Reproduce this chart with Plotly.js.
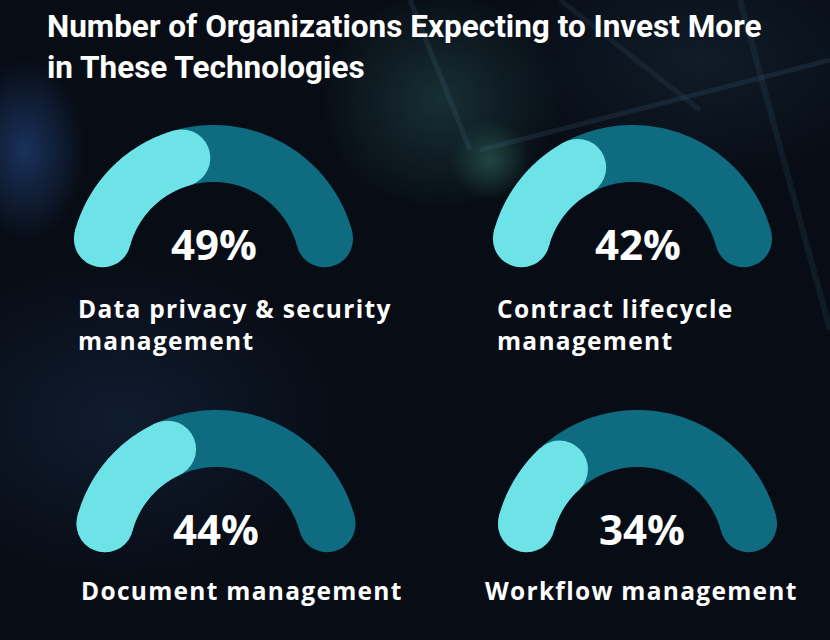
<!DOCTYPE html>
<html>
<head>
<meta charset="utf-8">
<script src="https://cdn.plot.ly/plotly-3.0.1.min.js"></script>
<style>
html,body{margin:0;padding:0;}
body{width:830px;height:640px;overflow:hidden;
background:
 radial-gradient(ellipse 60px 90px at 25px 150px, rgba(40,80,150,0.55), rgba(0,0,0,0) 100%),
 radial-gradient(ellipse 120px 110px at 440px 100px, rgba(40,90,90,0.45), rgba(0,0,0,0) 100%),
 radial-gradient(ellipse 40px 40px at 490px 160px, rgba(60,130,110,0.45), rgba(0,0,0,0) 100%),
 radial-gradient(ellipse 220px 160px at 120px 420px, rgba(25,45,80,0.45), rgba(0,0,0,0) 100%),
 radial-gradient(ellipse 200px 120px at 700px 60px, rgba(30,55,75,0.35), rgba(0,0,0,0) 100%),
 #080d15;}
#chart{width:830px;height:640px;}
</style>
</head>
<body>
<div id="chart"></div>
<script>
// ---- data ----
const categories = ["Data privacy & security<br>management", "Contract lifecycle<br>management", "Document management", "Workflow management"];
const values = [49, 42, 44, 34];
const valueLabels = ["49%", "42%", "44%", "34%"];
const titleText = "Number of Organizations Expecting to Invest More<br>in These Technologies";

// ---- layout config ----
const W = 830, H = 640;
const R_PX = 115;          // centerline radius in px
const STROKE = 57;         // band width in px
const THETA0 = 15;         // track end angle above horizontal (deg)
const CAP = (STROKE / 2) / R_PX * 180 / Math.PI; // cap angle (deg)
const centers = [[213.5, 268.5], [632.5, 268.5], [216, 553.5], [637.5, 553.5]];
const labelPos = [[76, 324], [495, 324], [79, 590], [483, 590]];
const pctShift = [0, 5, 0, 4];
const DARK = "#0f6b80", LIGHT = "#6de3e8";

function arc(a0, a1, n) {
  const xs = [], ys = [];
  for (let i = 0; i <= n; i++) {
    const a = (a0 + (a1 - a0) * i / n) * Math.PI / 180;
    xs.push(Math.cos(a)); ys.push(Math.sin(a));
  }
  return [xs, ys];
}

const traces = [];
const layout = {
  width: W, height: H,
  margin: {l: 0, r: 0, t: 0, b: 0},
  paper_bgcolor: "rgba(0,0,0,0)", plot_bgcolor: "rgba(0,0,0,0)",
  showlegend: false,
  title: {text: titleText, x: 47 / W, xanchor: "left", y: 1 - 37 / H, yanchor: "middle",
          font: {family: "Roboto", size: 31.5, color: "#ffffff", weight: 700}},
  annotations: [],
  shapes: [
    {type: "line", xref: "paper", yref: "paper", x0: 410/W, y0: 1, x1: 470/W, y1: 1-150/H, line: {color: "rgba(70,110,140,0.18)", width: 5}},
    {type: "line", xref: "paper", yref: "paper", x0: 480/W, y0: 1-150/H, x1: 1, y1: 1-60/H, line: {color: "rgba(70,110,140,0.18)", width: 5}},
    {type: "line", xref: "paper", yref: "paper", x0: 740/W, y0: 1, x1: 1, y1: 1-330/H, line: {color: "rgba(70,110,140,0.15)", width: 6}},
    {type: "line", xref: "paper", yref: "paper", x0: 560/W, y0: 1, x1: 700/W, y1: 1-110/H, line: {color: "rgba(70,110,140,0.15)", width: 5}}
  ]
};

values.forEach((v, i) => {
  const k = i === 0 ? "" : String(i + 1);
  const xa = "x" + k, ya = "y" + k;
  const [cx, cy] = centers[i];
  const halfW = 1.5 * R_PX, down = 0.5 * R_PX, up = 1.5 * R_PX;
  layout["xaxis" + k] = {domain: [(cx - halfW) / W, (cx + halfW) / W], range: [-1.5, 1.5], visible: false, fixedrange: true, anchor: ya};
  layout["yaxis" + k] = {domain: [(H - cy - down) / H, (H - cy + up) / H], range: [-0.5, 1.5], visible: false, fixedrange: true, anchor: xa};

  const start = 180 - THETA0, end = THETA0;
  const visSpan = (start - end) + 2 * CAP;
  const lightEnd = (start + CAP) - v / 100 * visSpan + CAP;

  const [tx, ty] = arc(start, end, 120);
  traces.push({type: "scatter", mode: "lines", x: tx, y: ty, xaxis: xa, yaxis: ya,
    line: {color: DARK, width: STROKE, simplify: false}, hoverinfo: "skip", cliponaxis: false});
  traces.push({type: "scatter", mode: "markers", x: [tx[0], tx[tx.length-1]], y: [ty[0], ty[ty.length-1]], xaxis: xa, yaxis: ya,
    marker: {color: DARK, size: STROKE, line: {width: 0}}, hoverinfo: "skip", cliponaxis: false});
  const [lx, ly] = arc(start, lightEnd, 80);
  traces.push({type: "scatter", mode: "lines", x: lx, y: ly, xaxis: xa, yaxis: ya,
    line: {color: LIGHT, width: STROKE, simplify: false}, hoverinfo: "skip", cliponaxis: false});
  traces.push({type: "scatter", mode: "markers", x: [lx[0], lx[lx.length-1]], y: [ly[0], ly[ly.length-1]], xaxis: xa, yaxis: ya,
    marker: {color: LIGHT, size: STROKE, line: {width: 0}}, hoverinfo: "skip", cliponaxis: false});

  layout.annotations.push({xref: xa, yref: ya, x: 0, y: (268.5 - 243) / R_PX, xshift: pctShift[i],
    text: valueLabels[i], showarrow: false, xanchor: "center", yanchor: "middle",
    font: {family: "Open Sans", size: 42, color: "#ffffff", weight: 700}});
  layout.annotations.push({xref: "paper", yref: "paper", x: labelPos[i][0] / W, y: 1 - labelPos[i][1] / H,
    text: categories[i], showarrow: false, xanchor: "left", yanchor: "middle", align: "left",
    font: {family: "Open Sans", size: 24.5, color: "#ffffff", weight: 700}});
});

Plotly.newPlot("chart", traces, layout, {staticPlot: true, displayModeBar: false}).then(gd => {
  gd.querySelectorAll(".annotation-text").forEach(t => {
    if (t.textContent.indexOf("%") === -1) t.style.letterSpacing = "1.3px";
  });
});
</script>
</body>
</html>
